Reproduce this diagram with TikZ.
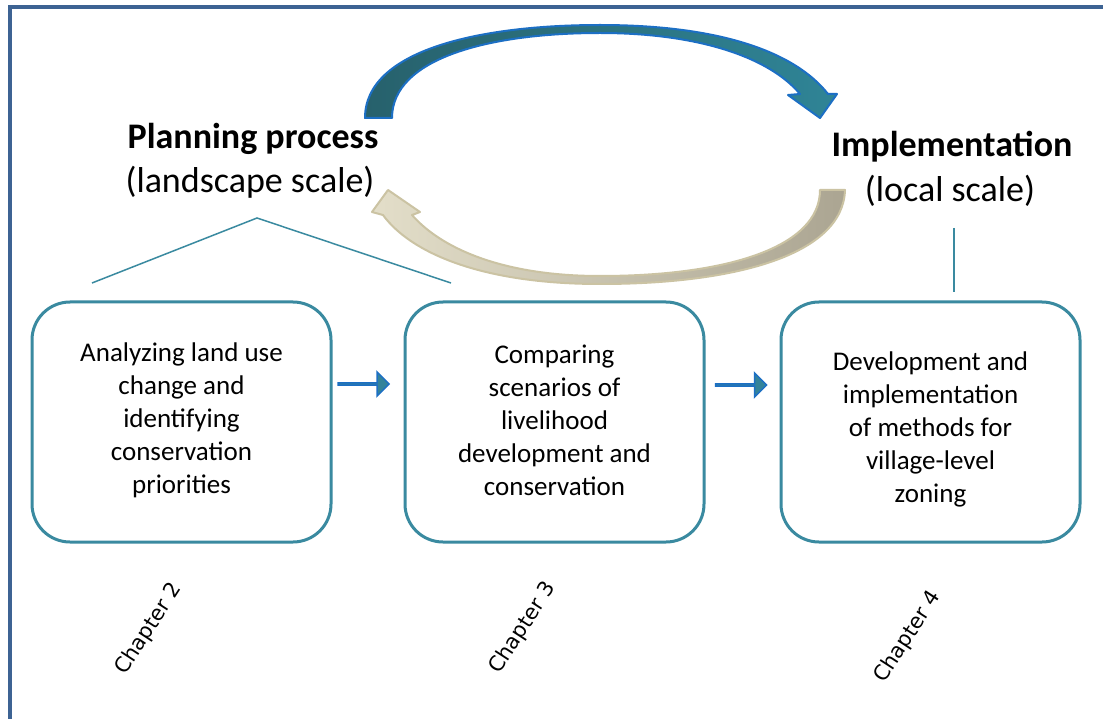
\documentclass[tikz,border=0pt]{standalone}
\usepackage{fontspec}
\setmainfont{Carlito}
\newfontfamily\chapfont{DejaVu Sans}
\usetikzlibrary{shapes.arrows,calc}
\definecolor{framec}{HTML}{3D6393}
\definecolor{tealc}{HTML}{3A8AA0}
\definecolor{bluec}{HTML}{1C6FC4}
\definecolor{arrfill}{HTML}{33839A}
\definecolor{darkteal}{HTML}{27616C}
\definecolor{midteal}{HTML}{2F8496}
\definecolor{tanl}{HTML}{E3DEC9}
\definecolor{tand}{HTML}{ABA592}
\definecolor{tanline}{HTML}{CBC3A3}
\tikzset{
  stagebox/.style={draw=tealc, line width=3pt, rounded corners=38pt, minimum width=299pt, minimum height=240pt, inner sep=0pt},
  stagetext/.style={align=center, inner sep=0pt, font=\fontsize{27}{33}\selectfont},
  blockarrow/.style={single arrow, draw=bluec, fill=arrfill, line width=1.5pt, minimum height=51pt, minimum width=24pt, single arrow head extend=7pt, inner sep=0pt},
  title/.style={anchor=base, font=\fontsize{36}{44}\selectfont\bfseries},
  subtitle/.style={anchor=base, font=\fontsize{36}{44}\selectfont},
  chap/.style={rotate=57, font=\fontsize{21}{25}\selectfont\chapfont},
  thinline/.style={draw=tealc, line width=1.5pt}
}
\begin{document}
\begin{tikzpicture}[x=1pt,y=-1pt]
\useasboundingbox (0,0) rectangle (1103,719);
\fill[white] (0,0) rectangle (1103,719);
% frame
\draw[framec, line width=4pt] (1110,7) -- (9.5,7) -- (9.5,730);

% titles
\node[title] (plan) at (253,149) {Planning process};
\node[subtitle] (plans) at (250,193) {(landscape scale)};
\node[title] (impl) at (952,157) {Implementation};
\node[subtitle] (impls) at (950,202) {(local scale)};

% top curved arrow
\shade[left color=darkteal, right color=midteal, draw=bluec, line width=2pt, line join=round]
  (365,118) .. controls (365,50) and (480,25) .. (600,25)
  .. controls (720,25) and (795,52) .. (828,94)
  -- (837,94) -- (820,118) -- (788,95) -- (800,94)
  .. controls (770,58) and (700,33) .. (600,33)
  .. controls (490,33) and (392,58) .. (392,118) -- cycle;

% bottom curved arrow
\shade[left color=tanl, right color=tand, draw=tanline, line width=2pt, line join=round]
  (845,190) .. controls (843,255) and (735,284) .. (600,284)
  .. controls (480,284) and (410,252) .. (383,215)
  -- (372,212) -- (388,190) -- (420,212) -- (412,215)
  .. controls (440,247) and (500,276) .. (600,276)
  .. controls (725,276) and (820,248) .. (820,190) -- cycle;

% connecting lines
\coordinate (tl) at (92,283);
\coordinate (tp) at (257,218);
\coordinate (tr) at (451,283);
\draw[thinline] (tl) -- (tp) -- (tr);
\coordinate (vt) at (954,228);
\coordinate (vb) at (954,292);
\draw[thinline] (vt) -- (vb);

% boxes
\node[stagebox] (b1) at (181.5,422) {};
\node[stagebox] (b2) at (554.5,422) {};
\node[stagebox] (b3) at (930.5,422) {};
\node[stagetext] (t1) at (181.5,420) {Analyzing land use\\change and\\identifying\\conservation\\priorities};
\node[stagetext] (t2) at (554.5,420) {Comparing\\scenarios of\\livelihood\\development and\\conservation};
\node[stagetext] (t3) at (930.5,429) {Development and\\implementation\\of methods for\\village-level\\zoning};

% block arrows
\node[blockarrow] (a1) at ($(b1.east)!0.5!(b2.west) + (-5,-38)$) {};
\node[blockarrow] (a2) at ($(b2.east)!0.5!(b3.west) + (-2,-37)$) {};

% chapters
\node[chap] (c2) at (149,629) {Chapter 2};
\node[chap] (c3) at (523,628) {Chapter 3};
\node[chap] (c4) at (908,637) {Chapter 4};
\end{tikzpicture}
\end{document}
